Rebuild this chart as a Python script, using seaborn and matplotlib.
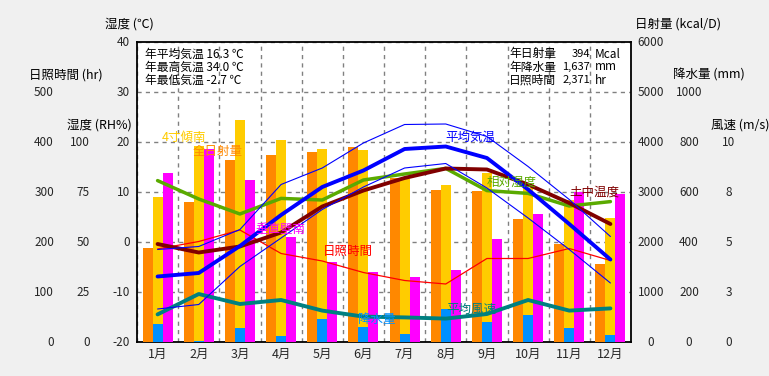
import numpy as np
import pandas as pd
import matplotlib
matplotlib.use("Agg")
import matplotlib.pyplot as plt
import seaborn as sns

sns.set_theme(style="white")
plt.rcParams['font.family'] = ['Noto Sans CJK JP', 'DejaVu Sans']

# ---- data ----
months = ['1月', '2月', '3月', '4月', '5月', '6月', '7月', '8月', '9月', '10月', '11月', '12月']
month_idx = np.arange(12)

# solar radiation (kcal/D)
rad_global = [1880, 2807, 3640, 3740, 3800, 3900, 3280, 3040, 3027, 2460, 1960, 1567]   # 全日射量
rad_slope = [2900, 3920, 4440, 4040, 3860, 3840, 3260, 3147, 3387, 3080, 2840, 2487]    # 4寸傾南
rad_wall = [3380, 3860, 3240, 2093, 1593, 1393, 1307, 1447, 2067, 2567, 3007, 2960]     # 垂直壁南
# precipitation (mm)
precip = [73, 5, 57, 25, 92, 61, 33, 132, 81, 109, 57, 29]
# temperatures (℃)
t_mean = [-6.9, -6.2, -0.8, 5.4, 11.0, 14.3, 18.6, 19.1, 16.8, 10.5, 3.6, -3.5]
t_max = [-1.5, -0.9, 2.5, 11.5, 14.8, 19.8, 23.5, 23.6, 21.1, 15.1, 8.5, 1.1]
t_min = [-13.4, -12.5, -4.9, 0.8, 6.5, 11.0, 14.8, 15.7, 10.8, 4.8, -1.5, -8.2]
t_soil = [-0.4, -2.1, -0.9, 1.9, 7.1, 10.3, 12.8, 14.7, 14.5, 11.5, 7.8, 3.6]
# relative humidity (%)
rh = [80.7, 71.5, 64, 71.8, 71, 81, 84, 86.8, 75.7, 74.3, 68, 70.2]
# wind speed (m/s)
wind = [1.38, 2.4, 1.9, 2.1, 1.57, 1.27, 1.23, 1.17, 1.4, 2.1, 1.57, 1.68]
# sunshine hours (hr)
sunshine = [186, 201, 224, 177, 162, 139, 123, 116, 167, 167, 187, 163]

rad_kinds = ['全日射量', '4寸傾南', '垂直壁南']
rad_df = pd.DataFrame({
    'month': np.tile(month_idx, 3),
    'kind': np.repeat(rad_kinds, 12),
    'value': rad_global + rad_slope + rad_wall,
})

C_ORANGE = '#FF8800'
C_YELLOW = '#FFCC00'
C_MAGENTA = '#FF00FF'
C_PRECIP = '#0090FF'
C_BLUE = '#0000FF'
C_RED = '#FF0000'
C_GREEN = '#5AAA00'
C_DRED = '#800000'
C_TEAL = '#008080'

W, H = 769, 376
fig = plt.figure(figsize=(W / 100, H / 100), dpi=100, facecolor='#F0F0F0')
ax = fig.add_axes([137 / W, (H - 342) / H, 494 / W, 300 / H])
ax.set_facecolor('white')
ax.set_ylim(-20, 40)


def twin(lo, hi):
    t = ax.twinx()
    t.set_ylim(lo, hi)
    for s in t.spines.values():
        s.set_visible(False)
    t.set_yticks([])
    t.set_ylabel('')
    return t


# bars
ax_rad = twin(0, 6000)
sns.barplot(data=rad_df, x='month', y='value', hue='kind', hue_order=rad_kinds,
            palette=[C_ORANGE, C_YELLOW, C_MAGENTA], width=0.73, saturation=1,
            linewidth=0, legend=False, ax=ax_rad)
ax_rad.set_xlabel('')

ax_pr = twin(0, 1200)
sns.barplot(x=month_idx, y=precip, color=C_PRECIP, width=0.243, saturation=1,
            linewidth=0, ax=ax_pr)

# lines
ax_sun = twin(0, 600)
sns.lineplot(x=month_idx, y=sunshine, color=C_RED, lw=0.9, ax=ax_sun)
ax_wind = twin(0, 15)
sns.lineplot(x=month_idx, y=wind, color=C_TEAL, lw=2.8, ax=ax_wind)
ax_rh = twin(0, 150)
sns.lineplot(x=month_idx, y=rh, color=C_GREEN, lw=2.5, ax=ax_rh)
ax_t = twin(-20, 40)
sns.lineplot(x=month_idx, y=t_soil, color=C_DRED, lw=2.8, ax=ax_t)
sns.lineplot(x=month_idx, y=t_max, color=C_BLUE, lw=0.8, ax=ax_t)
sns.lineplot(x=month_idx, y=t_min, color=C_BLUE, lw=0.8, ax=ax_t)
sns.lineplot(x=month_idx, y=t_mean, color=C_BLUE, lw=2.8, ax=ax_t)

for a in [ax_rad, ax_pr, ax_sun, ax_wind, ax_rh, ax_t]:
    a.set_yticks([])
    a.set_ylabel('')

# axis / grid on the base axes
ax.set_xlim(-0.5, 11.5)
ax.set_xticks(np.arange(-0.5, 12, 1))
ax.set_xticklabels([])
ax.set_xticks(month_idx, minor=True)
ax.set_xticklabels(months, minor=True, fontsize=9)
ax.tick_params(axis='x', which='both', length=0)
ax.tick_params(axis='x', which='minor', pad=4)
ax.set_yticks(range(-20, 41, 10))
ax.set_yticklabels([])
ax.tick_params(axis='y', length=0)
ax.grid(True, color='#808080', ls=(0, (3, 3)), lw=1)
for s in ax.spines.values():
    s.set_visible(True)
    s.set_color('black')
    s.set_linewidth(1.3)


def px(x):
    return (x - 137) / 494


tick_fs = 8.5
for v in range(-20, 41, 10):
    ax.text(px(130), v, str(v), transform=ax.get_yaxis_transform(), ha='right', va='center', fontsize=tick_fs)
for v in range(0, 501, 100):
    ax_sun.text(px(54), v, str(v), transform=ax_sun.get_yaxis_transform(), ha='right', va='center', fontsize=tick_fs)
for v in range(0, 101, 25):
    ax_rh.text(px(90), v, str(v), transform=ax_rh.get_yaxis_transform(), ha='right', va='center', fontsize=tick_fs)
for v in range(0, 6001, 1000):
    ax_rad.text(px(651), v, str(v), transform=ax_rad.get_yaxis_transform(), ha='center', va='center', fontsize=tick_fs)
for v in range(0, 1001, 200):
    ax_pr.text(px(689), v, str(v), transform=ax_pr.get_yaxis_transform(), ha='center', va='center', fontsize=tick_fs)
for v, lab in zip([0, 2.5, 5, 7.5, 10], ['0', '3', '5', '8', '10']):
    ax_wind.text(px(729), v, lab, transform=ax_wind.get_yaxis_transform(), ha='center', va='center', fontsize=tick_fs)


def ftext(x, y, s, color='black', ha='left', fs=9):
    fig.text(x / W, 1 - y / H, s, color=color, ha=ha, va='center', fontsize=fs)


# axis titles
ftext(105, 24, '湿度 (℃)')
ftext(29, 75, '日照時間 (hr)')
ftext(67, 125, '湿度 (RH%)')
ftext(635, 24, '日射量 (kcal/D)')
ftext(673, 75, '降水量 (mm)')
ftext(711, 125, '風速 (m/s)')

# info boxes
ftext(145, 54, '年平均気温 16.3 ℃', fs=8.5)
ftext(145, 67, '年最高気温 34.0 ℃', fs=8.5)
ftext(145, 80, '年最低気温 -2.7 ℃', fs=8.5)
for y, name, num, unit in [(54, '年日射量', '394', 'Mcal'),
                           (67, '年降水量', '1,637', 'mm'),
                           (80, '日照時間', '2,371', 'hr')]:
    ftext(509, y, name, fs=8.5)
    ftext(590, y, num, ha='right', fs=8)
    ftext(595, y, unit, fs=8.5)

# series labels
ftext(162, 137, '4寸傾南', C_YELLOW)
ftext(193, 152, '全日射量', C_ORANGE)
ftext(255, 229, '垂直壁南', C_MAGENTA)
ftext(323, 251, '日照時間', C_RED)
ftext(358, 319, '降水量', C_PRECIP)
ftext(446, 309, '平均風速', C_TEAL)
ftext(445, 137, '平均気温', C_BLUE)
ftext(487, 182, '相対湿度', C_GREEN)
ftext(569, 192, '土中温度', C_DRED)

fig.savefig('out.png', dpi=100, facecolor=fig.get_facecolor())
